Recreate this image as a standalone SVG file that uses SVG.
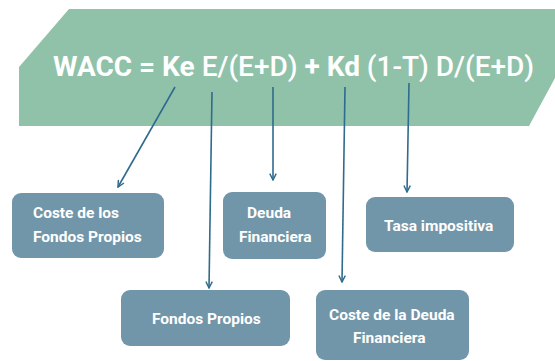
<svg xmlns="http://www.w3.org/2000/svg" width="555" height="361" viewBox="0 0 555 361">
<defs>
<style>
.box{fill:#7196a9}
.lbl{font-family:Roboto,"Liberation Sans",sans-serif;font-size:15.5px;font-weight:700;fill:#ffffff}
.f{font-family:Roboto,"Liberation Sans",sans-serif;font-size:28px;fill:#ffffff}
.b{font-weight:700}
.m{font-weight:500}
.c{stroke:#2f6b8d;stroke-width:1.6;fill:none;marker-end:url(#ah)}
</style>
<marker id="ah" viewBox="0 0 10 10" refX="9" refY="5" markerWidth="8" markerHeight="8" markerUnits="userSpaceOnUse" orient="auto">
<path d="M1,1 L9,5 L1,9" fill="none" stroke="#2f6b8d" stroke-width="1.8"/>
</marker>
</defs>
<rect width="555" height="361" fill="#ffffff"/>
<g id="banner">
<polygon points="69,9 555,9 555,78 529,126 19,126 19,67" fill="#90c2a9"/>
<text class="f" x="53" y="76"><tspan class="b">WACC = Ke </tspan><tspan class="m">E/(E+D) </tspan><tspan class="b">+ Kd </tspan><tspan class="m">(1-T) D/(E+D)</tspan></text>
</g>
<g id="connectors">
<line class="c" x1="175" y1="87" x2="118" y2="187"/>
<line class="c" x1="212" y1="92" x2="209" y2="288"/>
<line class="c" x1="273" y1="87" x2="273" y2="180"/>
<line class="c" x1="345" y1="87" x2="342" y2="282"/>
<line class="c" x1="409" y1="83" x2="407" y2="192"/>
</g>
<g id="n1">
<rect class="box" x="12" y="193" width="152" height="65" rx="9"/>
<text class="lbl" x="33" y="218">Coste de los</text>
<text class="lbl" x="33" y="242">Fondos Propios</text>
</g>
<g id="n2">
<rect class="box" x="223" y="192" width="103" height="67" rx="9"/>
<text class="lbl" x="247" y="218">Deuda</text>
<text class="lbl" x="239" y="242">Financiera</text>
</g>
<g id="n3">
<rect class="box" x="366" y="197" width="148" height="55" rx="9"/>
<text class="lbl" x="384" y="231">Tasa impositiva</text>
</g>
<g id="n4">
<rect class="box" x="121" y="290" width="169" height="56" rx="9"/>
<text class="lbl" x="152" y="324">Fondos Propios</text>
</g>
<g id="n5">
<rect class="box" x="316" y="290" width="153" height="70" rx="9"/>
<text class="lbl" x="329" y="320">Coste de la Deuda</text>
<text class="lbl" x="353" y="343">Financiera</text>
</g>
</svg>
